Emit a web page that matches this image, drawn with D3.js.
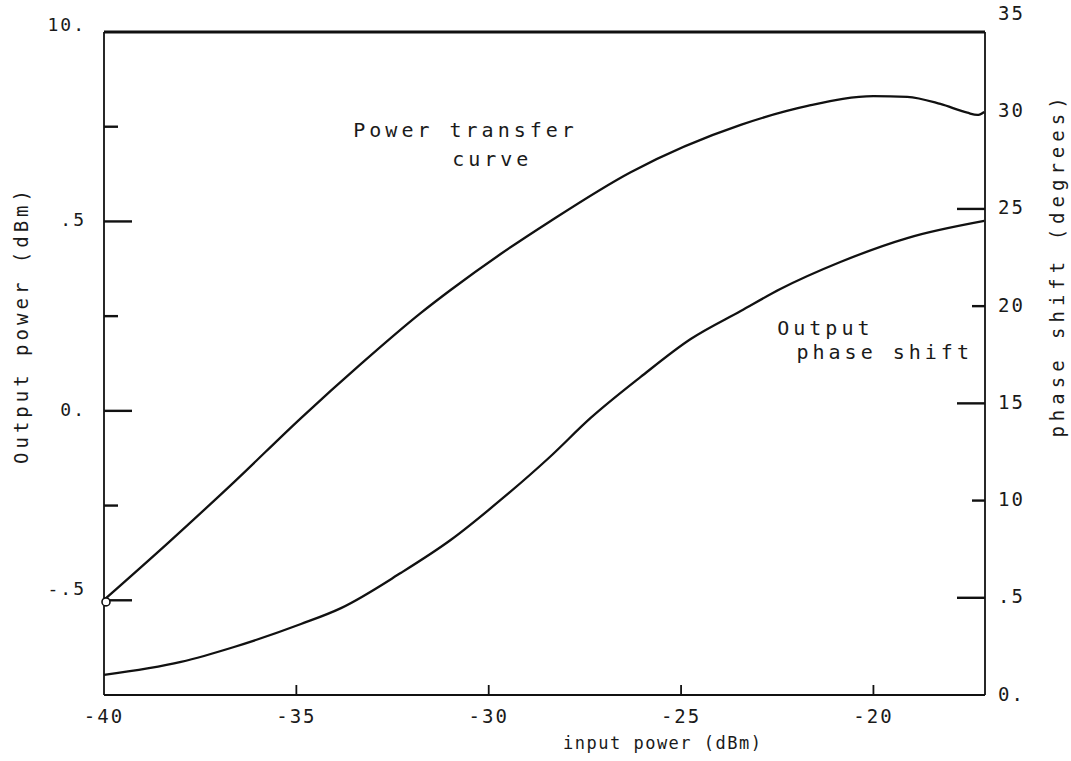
<!DOCTYPE html>
<html>
<head>
<meta charset="utf-8">
<script src="https://cdn.jsdelivr.net/npm/d3@7"></script>
<style>
  html, body { margin: 0; padding: 0; background: #fff; }
  svg text { font-family: "DejaVu Sans Mono", "Liberation Mono", monospace; fill: #1a1a1a; }
</style>
</head>
<body>
<div id="chart"></div>
<script>
// Power transfer + phase shift vs input power (scanned amplifier plot)

// input power (dBm) sampled along the power transfer curve
const powerInput = [-40, -38.34, -36.62, -34.88, -33.32, -31.77, -30.99, -29.69, -28.44,
                    -26.31, -23.45, -21.71, -20.0, -19.12, -18.26, -17.56, -17.3, -17.12];
// output power (dB, left axis)
const powerOut   = [-0.499, -0.349, -0.188, -0.019, 0.124, 0.258, 0.319, 0.414, 0.498,
                    0.630, 0.755, 0.805, 0.831, 0.829, 0.810, 0.787, 0.781, 0.789];

// input power (dBm) sampled along the phase curve
const phaseInput = [-40, -38.0, -36.62, -34.88, -33.84, -32.29, -30.99, -29.69, -28.44,
                    -27.35, -26.05, -24.75, -23.45, -22.42, -20.86, -19.12, -17.12];
// output phase shift (degrees, right axis)
const phaseDeg   = [1.03, 1.70, 2.47, 3.65, 4.47, 6.27, 7.97, 10.03, 12.19,
                    14.25, 16.36, 18.31, 19.75, 20.88, 22.27, 23.50, 24.38];

const xTicks      = [-40, -35, -30, -25, -20];
const xTickLabels = ["-40", "-35", "-30", "-25", "-20"];

const leftTicks       = [0.75, 0.5, 0.25, 0, -0.25, -0.5];
const leftLabelValues = [1.0, 0.5, 0, -0.5];
const leftLabels      = ["10.", ".5", "0.", "-.5"];

const rightTicks       = [25, 20, 15, 10, 5];
const rightLabelValues = [35, 30, 25, 20, 15, 10, 5, 0];
const rightLabels      = ["35", "30", "25", "20", "15", "10", ".5", "0."];

function draw() {
  const W = 1071, H = 761;
  const m = { top: 32, right: 86, bottom: 66, left: 104 };
  const iw = W - m.left - m.right;
  const ih = H - m.top - m.bottom;

  const x  = d3.scaleLinear().domain([-40, -17.1]).range([0, iw]);
  const yL = d3.scaleLinear().domain([-0.75, 1.0]).range([ih, 0]);
  const yR = d3.scaleLinear().domain([0, 34.1]).range([ih, 0]);

  const svg = d3.select("#chart").append("svg")
    .attr("width", W).attr("height", H)
    .attr("viewBox", `0 0 ${W} ${H}`);

  const g = svg.append("g").attr("transform", `translate(${m.left},${m.top})`);
  const ink = "#111";

  // frame: top heavier, sides/bottom plain
  g.append("line").attr("x1", 0).attr("x2", iw).attr("y1", 0).attr("y2", 0)
    .attr("stroke", ink).attr("stroke-width", 3);
  g.append("line").attr("x1", 0).attr("x2", iw).attr("y1", ih).attr("y2", ih)
    .attr("stroke", ink).attr("stroke-width", 2.2);
  g.append("line").attr("x1", 0).attr("x2", 0).attr("y1", 0).attr("y2", ih)
    .attr("stroke", ink).attr("stroke-width", 1.8);
  g.append("line").attr("x1", iw).attr("x2", iw).attr("y1", 0).attr("y2", ih)
    .attr("stroke", ink).attr("stroke-width", 1.8);

  // left ticks point inward, labelled ones are longer
  leftTicks.forEach(t => {
    const major = leftLabelValues.includes(t);
    g.append("line")
      .attr("x1", 0).attr("x2", major ? 28 : 14)
      .attr("y1", yL(t)).attr("y2", yL(t))
      .attr("stroke", ink).attr("stroke-width", 2.4);
  });
  leftLabelValues.forEach((v, i) => {
    g.append("text")
      .attr("x", -18).attr("y", yL(v) + (v === 1 ? -6 : v === -0.5 ? -10 : 0))
      .attr("text-anchor", "end")
      .attr("dominant-baseline", "middle")
      .attr("font-size", "18px")
      .attr("letter-spacing", "2px")
      .text(leftLabels[i]);
  });

  // right ticks point inward (5, 15, 25 long; 10, 20 short)
  rightTicks.forEach(t => {
    const len = (t % 10 === 5) ? 28 : 13;
    g.append("line")
      .attr("x1", iw - len).attr("x2", iw)
      .attr("y1", yR(t)).attr("y2", yR(t))
      .attr("stroke", ink).attr("stroke-width", 2.4);
  });
  rightLabelValues.forEach((v, i) => {
    g.append("text")
      .attr("x", iw + 13).attr("y", yR(v))
      .attr("dominant-baseline", "middle")
      .attr("font-size", "19px")
      .attr("letter-spacing", "2px")
      .text(rightLabels[i]);
  });

  // bottom axis: small upward ticks
  xTicks.forEach((t, i) => {
    if (t > -40) {
      g.append("line")
        .attr("x1", x(t)).attr("x2", x(t))
        .attr("y1", ih).attr("y2", ih - 10)
        .attr("stroke", ink).attr("stroke-width", 1.8);
    }
    g.append("text")
      .attr("x", x(t)).attr("y", ih + 22)
      .attr("text-anchor", "middle")
      .attr("dominant-baseline", "middle")
      .attr("font-size", "19px")
      .attr("letter-spacing", "2px")
      .text(xTickLabels[i]);
  });

  // curves
  const powerPts = powerInput.map((d, i) => [d, powerOut[i]]);
  const phasePts = phaseInput.map((d, i) => [d, phaseDeg[i]]);

  g.append("path")
    .datum(powerPts)
    .attr("fill", "none").attr("stroke", ink).attr("stroke-width", 2.3)
    .attr("d", d3.line().x(d => x(d[0])).y(d => yL(d[1])).curve(d3.curveMonotoneX));

  g.append("circle")
    .attr("cx", x(powerPts[0][0]) + 2).attr("cy", yL(powerPts[0][1]) + 2)
    .attr("r", 4).attr("fill", "#fff").attr("stroke", ink).attr("stroke-width", 1.6);

  g.append("path")
    .datum(phasePts)
    .attr("fill", "none").attr("stroke", ink).attr("stroke-width", 2.3)
    .attr("d", d3.line().x(d => x(d[0])).y(d => yR(d[1])).curve(d3.curveMonotoneX));

  // curve annotations
  const note = (tx, ty, s) => g.append("text")
    .attr("x", tx).attr("y", ty)
    .attr("font-size", "20px")
    .attr("letter-spacing", "4px")
    .text(s);
  note(x(-33.52), yL(0.723), "Power transfer");
  note(x(-30.95), yL(0.645), "curve");
  note(x(-22.5), yR(18.5), "Output");
  note(x(-22.0), yR(17.3), "phase shift");

  // axis titles
  svg.append("text")
    .attr("transform", "translate(28,325) rotate(-90)")
    .attr("text-anchor", "middle")
    .attr("font-size", "19px")
    .attr("letter-spacing", "4px")
    .text("Output power (dBm)");

  svg.append("text")
    .attr("transform", "translate(1064,265) rotate(-90)")
    .attr("text-anchor", "middle")
    .attr("font-size", "19px")
    .attr("letter-spacing", "5px")
    .text("phase shift (degrees)");

  svg.append("text")
    .attr("x", 563).attr("y", H - 12)
    .attr("font-size", "17px")
    .attr("letter-spacing", "1.5px")
    .text("input power (dBm)");
}

draw();
</script>
</body>
</html>
